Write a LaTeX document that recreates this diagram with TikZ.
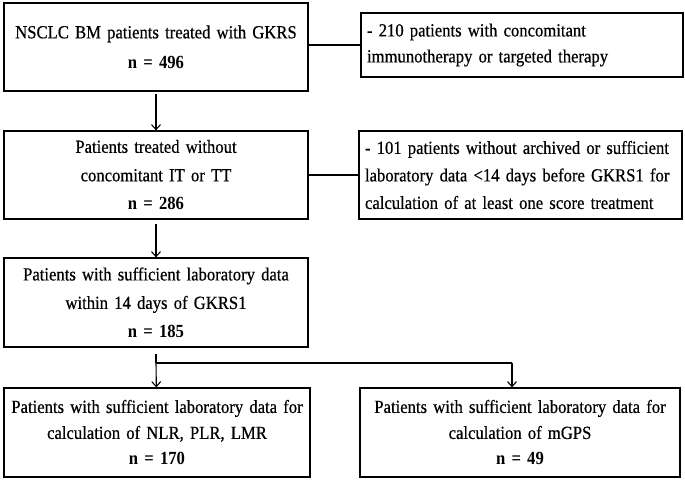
\documentclass[tikz,border=0pt]{standalone}
\usepackage{fontspec}
\setmainfont{Liberation Serif}[FakeStretch=0.9, WordSpace=0.6, UprightFeatures={FakeBold=0.5}]
\usetikzlibrary{arrows.meta}
\hyphenpenalty=10000
\exhyphenpenalty=10000
\tikzset{
  box/.style={draw, line width=1.2pt, rectangle, inner sep=0pt, align=center, text width=#1},
  box/.default=302pt,
  rbox/.style={draw, line width=1.2pt, rectangle, inner ysep=0pt, inner xsep=6pt, align=left},
  conn/.style={line width=1.1pt},
  arr/.style={line width=1.1pt, -{Straight Barb[length=5pt,width=9pt,line width=1.1pt]}}
}
\begin{document}
\begin{tikzpicture}[x=1pt,y=-1pt]
\useasboundingbox (0,0) rectangle (685,480);
\node[box, minimum width=304pt, minimum height=88pt, font=\fontsize{18.5}{30}\selectfont] (b1) at (156,47)
  {NSCLC BM patients treated with GKRS\\\textbf{n = 496}};
\node[rbox, minimum width=322pt, minimum height=64pt, text width=310pt, font=\fontsize{18.5}{26}\selectfont] (r1) at (522,45)
  {- 210 patients with concomitant\\immunotherapy or targeted therapy};
\node[box, minimum width=304pt, minimum height=88pt, font=\fontsize{18.5}{28.5}\selectfont] (b2) at (156,175)
  {Patients treated without\\concomitant IT or TT\\\textbf{n = 286}};
\node[rbox, minimum width=323pt, minimum height=88pt, text width=311pt, font=\fontsize{18.5}{27.5}\selectfont] (r2) at (520.5,175)
  {- 101 patients without archived or sufficient\\laboratory data <14 days before GKRS1 for\\calculation of at least one score treatment};
\node[box, minimum width=304pt, minimum height=89pt, font=\fontsize{18.5}{28.5}\selectfont] (b3) at (156,302.5)
  {Patients with sufficient laboratory data\\within 14 days of GKRS1\\\textbf{n = 185}};
\node[box, minimum width=306pt, minimum height=89pt, font=\fontsize{18.5}{26}\selectfont] (b4) at (157,432.5)
  {Patients with sufficient laboratory data for\\calculation of NLR, PLR, LMR\\\textbf{n = 170}};
\node[box, minimum width=320pt, minimum height=89pt, font=\fontsize{18.5}{26}\selectfont] (b5) at (520,432.5)
  {Patients with sufficient laboratory data for\\calculation of mGPS\\\textbf{n = 49}};
\coordinate (split) at (156,363);
\coordinate (split2) at (512,363);
\draw[conn] (b1.east |- r1.west) -- (r1.west);
\draw[conn] (b2.east |- r2.west) -- (r2.west);
\draw[arr, shorten <=2pt] (b1) -- (b2);
\draw[arr, shorten <=4pt] (b2) -- (b3);
\draw[conn, shorten <=6pt] (b3) -- (split);
\draw[arr] (split) -- (b4);
\draw[conn] (split) -- (split2);
\draw[arr] (split2) -- (split2 |- b5.north);
\end{tikzpicture}
\end{document}
